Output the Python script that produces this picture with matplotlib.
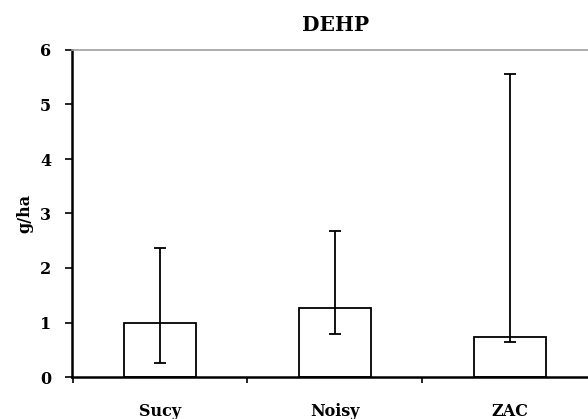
import matplotlib
matplotlib.use("Agg")
import matplotlib.pyplot as plt

categories = ["Sucy", "Noisy", "ZAC"]
values = [0.99, 1.26, 0.74]
err_low = [0.26, 0.79, 0.65]
err_high = [2.36, 2.67, 5.56]
yticks = [0, 1, 2, 3, 4, 5, 6]

plt.rcParams['font.family'] = ['DejaVu Serif']

fig = plt.figure(figsize=(5.88, 4.19), dpi=100)
ax = fig.add_axes([72/588, 42/419, 516/588, 327/419])

x = list(range(len(categories)))
lower = [v - l for v, l in zip(values, err_low)]
upper = [h - v for v, h in zip(values, err_high)]
ax.bar(x, values, width=0.41, color="white", edgecolor="black", linewidth=1.3, zorder=2)
ax.errorbar(x, values, yerr=[lower, upper], fmt="none", ecolor="black",
            elinewidth=1.3, capsize=4.5, capthick=1.3, zorder=3)

ax.set_yticks(yticks)
ax.set_yticklabels([str(t) for t in yticks], fontsize=11.5, fontweight="bold")
ax.set_xticks(x)
ax.set_xticklabels(categories, fontsize=11.5, fontweight="bold")
ax.set_xticks([-0.5, 0.5, 1.5], minor=True)
ax.set_xlim(-0.503, 2.446)
ax.set_ylim(0, 6)
ax.tick_params(axis="x", which="major", length=0, pad=19)
ax.tick_params(axis="x", which="minor", length=4, width=1.2, direction="out")
ax.tick_params(axis="y", length=5, width=1.2, direction="out", pad=10)

ax.spines["left"].set_linewidth(1.8)
ax.spines["bottom"].set_linewidth(1.8)
ax.spines["top"].set_color("#a0a0a0")
ax.spines["top"].set_linewidth(1.2)
ax.spines["right"].set_visible(False)

ax.set_ylabel("g/ha", fontsize=11.5, fontweight="bold")
ax.yaxis.set_label_coords(-(72 - 33) / 516, 0.5)
fig.text(336/588, 1 - 25/419, "DEHP", ha="center", va="center", fontsize=14.5, fontweight="bold")

fig.savefig("out.png", dpi=100)
